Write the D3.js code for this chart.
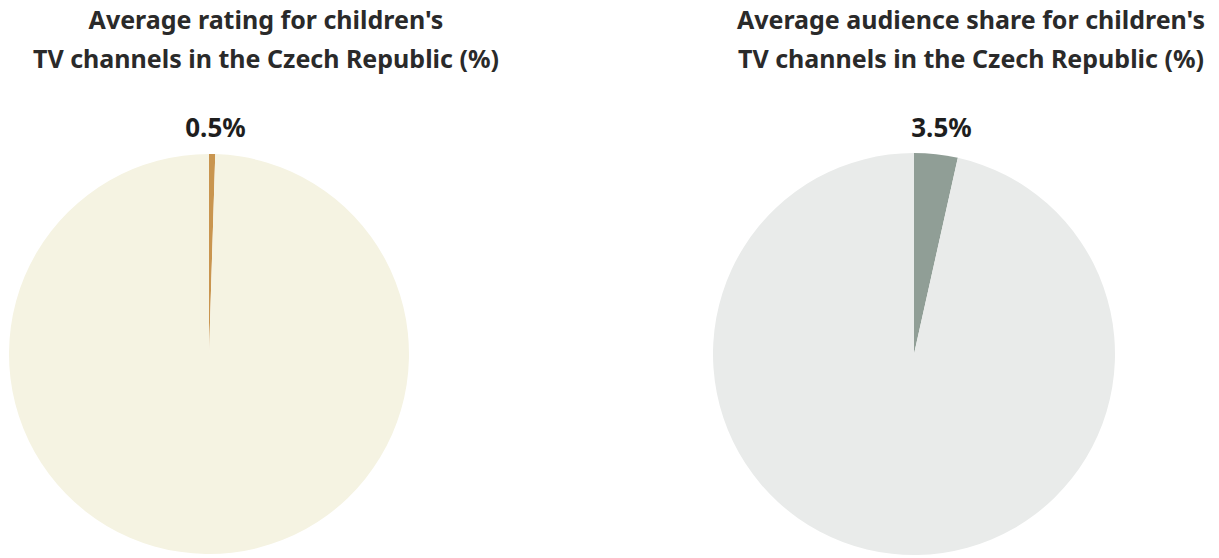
<!DOCTYPE html>
<html><head><meta charset="utf-8">
<script src="https://cdn.jsdelivr.net/npm/d3@7"></script>
<style>body{margin:0;background:#fff;} svg{display:block;}</style>
</head><body>
<svg id="c" width="1219" height="558"></svg>
<script>
const titles = [
  ["Average rating for children's", "TV channels in the Czech Republic (%)"],
  ["Average audience share for children's", "TV channels in the Czech Republic (%)"]
];
const values = [0.5, 3.5];
const labels = ["0.5%", "3.5%"];
const sliceColors = ["#c9954f", "#909e96"];
const restColors = ["#f5f3e2", "#e9ebea"];

const svg = d3.select("#c");
const centers = [{x:209,y:354,r:200},{x:914,y:354,r:201}];
const titleOffset = 57;

values.forEach((v,i)=>{
  const c = centers[i];
  const g = svg.append("g").attr("transform",`translate(${c.x},${c.y})`);
  const pie = d3.pie().sort(null).value(d=>d)([v, 100-v]);
  const arc = d3.arc().innerRadius(0).outerRadius(c.r);
  g.selectAll("path").data(pie).join("path")
    .attr("d",arc)
    .attr("fill",(d,j)=> j===0 ? sliceColors[i] : restColors[i]);
  const la = d3.arc().innerRadius(c.r+22).outerRadius(c.r+22);
  const p = la.centroid(pie[0]);
  g.append("text").attr("x",p[0]+3).attr("y",p[1]+5)
    .attr("text-anchor","middle")
    .style("font-family","'Noto Sans', sans-serif").style("font-weight","bold")
    .style("font-size","26px").attr("fill","#1e1e1e")
    .text(labels[i]);
  const t = svg.append("text").attr("x",c.x+titleOffset).attr("text-anchor","middle")
    .style("font-family","'Noto Sans', sans-serif").style("font-weight","bold")
    .style("font-size","25px").attr("fill","#2a2a2a");
  titles[i].forEach((line,k)=>{
    t.append("tspan").attr("x",c.x+titleOffset).attr("y",29+k*39).text(line);
  });
});
</script>
</body></html>
